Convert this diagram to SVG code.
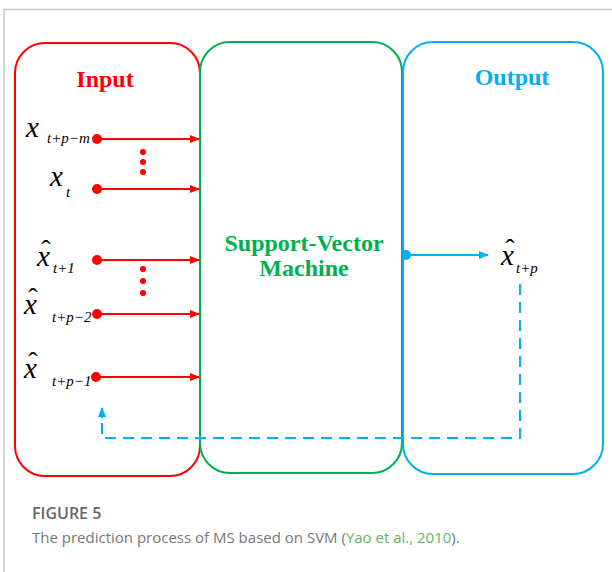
<svg xmlns="http://www.w3.org/2000/svg" width="612" height="572" viewBox="0 0 612 572">
<style>
.math{font-family:"Liberation Serif","Times New Roman",serif;font-style:italic;fill:#000;font-size:29px}
.sub{font-family:"Liberation Serif","Times New Roman",serif;font-style:italic;fill:#000;font-size:15px}
.hat{font-family:"Liberation Serif","Times New Roman",serif;fill:#000;font-size:28px;text-anchor:middle}
.title{font-family:"Liberation Serif","Times New Roman",serif;font-weight:bold;font-size:24px;text-anchor:middle}
.red{stroke:#ff0000;stroke-width:2;fill:none}
.dot{fill:#ff0000}
.cap{font-family:"Open Sans","Liberation Sans",sans-serif}
</style>
<defs>
<marker id="ar" markerWidth="10" markerHeight="8" refX="9" refY="4" orient="auto" markerUnits="userSpaceOnUse">
<path d="M0,0 L10,4 L0,8 Z" fill="#ff0000"/>
</marker>
<marker id="ab" markerWidth="10" markerHeight="8" refX="9" refY="4" orient="auto" markerUnits="userSpaceOnUse">
<path d="M0,0 L10,4 L0,8 Z" fill="#00b0f0"/>
</marker>
</defs>
<rect width="612" height="572" fill="#fff"/>
<path d="M4,572 V9.5 H612" fill="none" stroke="#c8c8c8" stroke-width="1.5"/>

<g id="input-box">
<rect x="15" y="43" width="185" height="433" rx="30" ry="30" fill="none" stroke="#ff0000" stroke-width="2"/>
<text class="title" x="105" y="87" fill="#ff0000">Input</text>
</g>
<g id="svm-box">
<rect x="200" y="42" width="202" height="431" rx="30" ry="30" fill="none" stroke="#00b050" stroke-width="2"/>
<text class="title" x="304" y="251" font-size="23" fill="#00b050">Support-Vector</text>
<text class="title" x="304" y="276" font-size="23" fill="#00b050">Machine</text>
</g>
<g id="output-box">
<rect x="403" y="42" width="200" height="432" rx="30" ry="30" fill="none" stroke="#00b0f0" stroke-width="2"/>
<text class="title" x="512" y="85" fill="#00b0f0">Output</text>
</g>

<g id="labels">
<text class="math" x="26" y="137">x</text><text class="sub" x="47" y="143">t+p−m</text>
<text class="math" x="50" y="186">x</text><text class="sub" x="66" y="197">t</text>
<text class="math" x="37" y="266">x</text><text class="hat" x="46" y="259">ˆ</text><text class="sub" x="53" y="273">t+1</text>
<text class="math" x="24" y="314">x</text><text class="hat" x="33" y="307">ˆ</text><text class="sub" x="52" y="322">t+p−2</text>
<text class="math" x="24" y="378">x</text><text class="hat" x="33" y="371">ˆ</text><text class="sub" x="52" y="386">t+p−1</text>
<text class="math" x="501" y="265">x</text><text class="hat" x="510" y="258">ˆ</text><text class="sub" x="516" y="273">t+p</text>
</g>

<g id="connectors">
<circle class="dot" cx="97" cy="139" r="5"/>
<line class="red" x1="97" y1="139" x2="199" y2="139" marker-end="url(#ar)"/>
<circle class="dot" cx="97" cy="189" r="5"/>
<line class="red" x1="97" y1="189" x2="199" y2="189" marker-end="url(#ar)"/>
<circle class="dot" cx="97" cy="260" r="5"/>
<line class="red" x1="97" y1="260" x2="199" y2="260" marker-end="url(#ar)"/>
<circle class="dot" cx="97" cy="314" r="5"/>
<line class="red" x1="97" y1="314" x2="199" y2="314" marker-end="url(#ar)"/>
<circle class="dot" cx="96" cy="377" r="5"/>
<line class="red" x1="96" y1="377" x2="199" y2="377" marker-end="url(#ar)"/>
<circle class="dot" cx="143" cy="152" r="3"/>
<circle class="dot" cx="143" cy="162" r="3"/>
<circle class="dot" cx="143" cy="172" r="3"/>
<circle class="dot" cx="143" cy="269" r="3"/>
<circle class="dot" cx="143" cy="281" r="3"/>
<circle class="dot" cx="143" cy="293" r="3"/>
<circle cx="406" cy="255" r="5" fill="#00b0f0"/>
<line x1="406" y1="255" x2="488" y2="255" stroke="#00b0f0" stroke-width="2" marker-end="url(#ab)"/>
<path d="M520,284 V438 H102 V416" fill="none" stroke="#00b0f0" stroke-width="2" stroke-dasharray="11 7"/>
<line x1="102" y1="418" x2="102" y2="408" stroke="#00b0f0" stroke-width="2" marker-end="url(#ab)"/>
</g>

<g id="caption">
<text class="cap" x="32" y="519" font-size="16" font-weight="600" fill="#666">FIGURE 5</text>
<text class="cap" x="32" y="543" font-size="15" fill="#777">The prediction process of MS based on SVM (<tspan fill="#5cb85c">Yao et al., 2010</tspan>).</text>
</g>
</svg>
